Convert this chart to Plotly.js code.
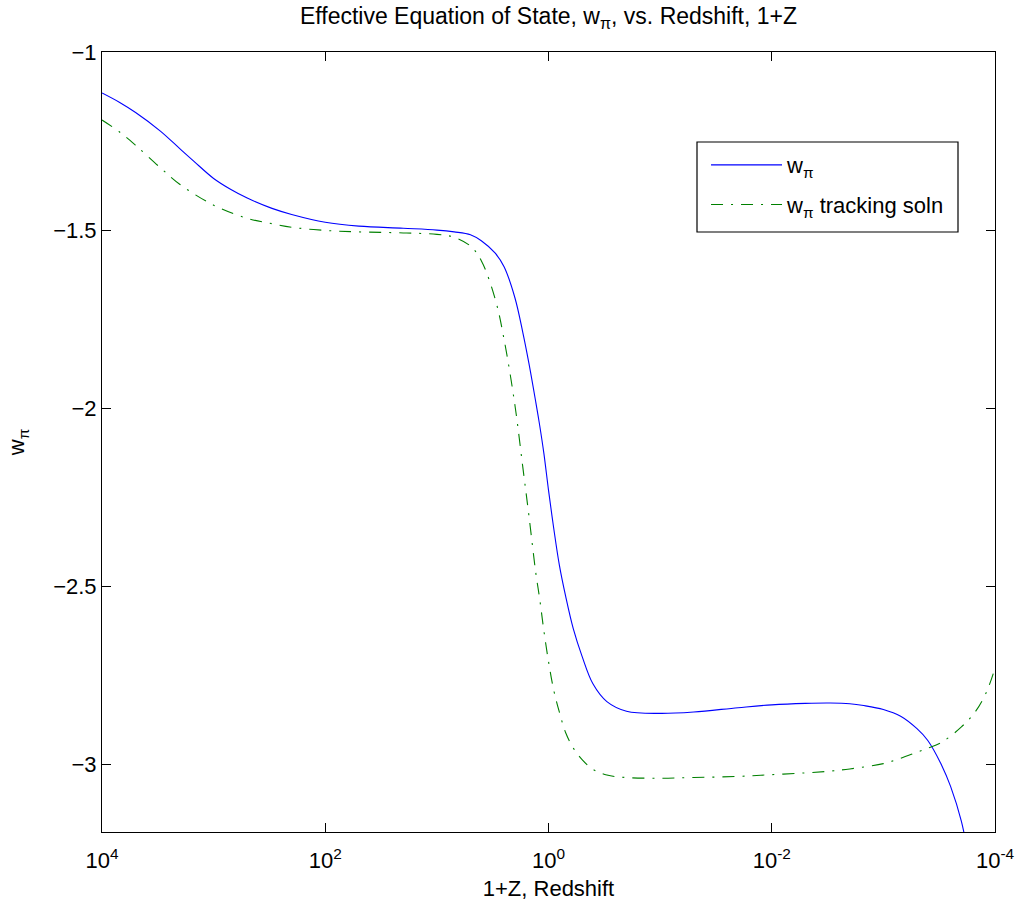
<!DOCTYPE html>
<html>
<head>
<meta charset="utf-8">
<script src="https://cdn.plot.ly/plotly-3.0.1.min.js"></script>
<style>html,body{margin:0;padding:0;background:#fff}#chart{width:1021px;height:907px}</style>
</head>
<body>
<div id="chart"></div>
<script>
// 1+Z redshift values (x) and w_pi values (y)
var redshift = [10000, 7000, 5000, 3000, 2000, 1500, 1000, 700, 500, 300, 200, 100, 50, 20, 10, 7, 5, 4, 3, 2.5, 2, 1.7, 1.5, 1.3, 1.2, 1.1, 1, 0.9, 0.8, 0.7, 0.6, 0.5, 0.4, 0.3, 0.2, 0.1, 0.05, 0.02, 0.01, 0.005, 0.003, 0.002, 0.0015, 0.001, 0.0007, 0.0005, 0.0004, 0.0003, 0.00025, 0.0002, 0.00018];
var wPi = [-1.115, -1.141, -1.170, -1.222, -1.272, -1.307, -1.355, -1.386, -1.410, -1.439, -1.456, -1.478, -1.489, -1.495, -1.500, -1.505, -1.513, -1.530, -1.565, -1.603, -1.690, -1.787, -1.873, -1.983, -2.048, -2.127, -2.230, -2.335, -2.440, -2.530, -2.619, -2.697, -2.774, -2.824, -2.851, -2.857, -2.853, -2.841, -2.833, -2.829, -2.828, -2.830, -2.835, -2.846, -2.865, -2.900, -2.933, -3.003, -3.062, -3.160, -3.230];

var redshiftTrack = [10000, 7000, 5000, 3000, 2000, 1000, 500, 300, 200, 100, 50, 20, 10, 7, 5, 4, 3, 2.5, 2, 1.7, 1.5, 1.3, 1.2, 1.1, 1, 0.9, 0.8, 0.7, 0.6, 0.5, 0.4, 0.3, 0.2, 0.1, 0.05, 0.02, 0.01, 0.005, 0.003, 0.002, 0.001, 0.0007, 0.0005, 0.0004, 0.0003, 0.0002, 0.00015, 0.00012, 0.0001];
var wPiTrack = [-1.191, -1.224, -1.262, -1.325, -1.372, -1.430, -1.467, -1.482, -1.492, -1.501, -1.505, -1.508, -1.512, -1.520, -1.545, -1.586, -1.694, -1.807, -1.991, -2.165, -2.300, -2.462, -2.535, -2.625, -2.711, -2.790, -2.853, -2.912, -2.954, -2.987, -3.014, -3.030, -3.037, -3.039, -3.037, -3.034, -3.029, -3.024, -3.019, -3.013, -2.998, -2.983, -2.966, -2.955, -2.938, -2.895, -2.852, -2.799, -2.730];

var xTickVals = [10000, 100, 1, 0.01, 0.0001];
var xTickText = ['10<sup>4</sup>', '10<sup>2</sup>', '10<sup>0</sup>', '10<sup>-2</sup>', '10<sup>-4</sup>'];
var yTickVals = [-3, -2.5, -2, -1.5, -1];
var yTickText = ['−3', '−2.5', '−2', '−1.5', '−1'];

var font = 'Liberation Sans, Arial, Helvetica, sans-serif';

var traces = [
  {x: redshift, y: wPi, type: 'scatter', mode: 'lines', name: 'w<sub>π</sub>', legendgroup: 'a',
   line: {color: '#0000ff', width: 1.1, shape: 'spline', smoothing: 1}},
  {x: redshiftTrack, y: wPiTrack, type: 'scatter', mode: 'lines', name: 'w<sub>π</sub> tracking soln', legendgroup: 'b',
   line: {color: '#008000', width: 1.1, dash: '12px,8px,2px,8px', shape: 'spline', smoothing: 1}}
];

var axisCommon = {
  showline: true, linecolor: '#000', linewidth: 1, mirror: 'ticks',
  ticks: 'inside', ticklen: 9, tickcolor: '#000', tickwidth: 1,
  showgrid: false, zeroline: false,
  tickfont: {family: font, size: 22, color: '#000'}
};

var layout = {
  width: 1021, height: 907,
  margin: {l: 102, r: 26, t: 52, b: 75},
  paper_bgcolor: '#fff', plot_bgcolor: '#fff',
  font: {family: font, color: '#000'},
  title: {text: 'Effective Equation of State, w<sub>π</sub>, vs. Redshift, 1+Z',
          font: {family: font, size: 23, color: '#000'},
          xref: 'paper', x: 0.5, xanchor: 'center', yref: 'container', y: 0.991, yanchor: 'top'},
  xaxis: Object.assign({}, axisCommon, {
    type: 'log', range: [4, -4], autorange: false,
    tickmode: 'array', tickvals: xTickVals, ticktext: xTickText, ticklabelstandoff: 9,
    title: {text: '1+Z, Redshift', font: {family: font, size: 22, color: '#000'}, standoff: 8}
  }),
  yaxis: Object.assign({}, axisCommon, {
    range: [-3.19, -1], autorange: false,
    tickmode: 'array', tickvals: yTickVals, ticktext: yTickText,
    title: {text: 'w<sub>π</sub>', font: {family: font, size: 22, color: '#000'}, standoff: 22}
  }),
  shapes: [{type: 'rect', xref: 'paper', yref: 'paper', layer: 'above',
            x0: (697 - 102) / 893, x1: (958 - 102) / 893, y0: (832 - 232) / 780, y1: (832 - 142) / 780,
            line: {color: '#000', width: 1.2}, fillcolor: 'rgba(255,255,255,0)'}],
  showlegend: true,
  legend: {x: 0.6764, y: 0.882, xanchor: 'left', yanchor: 'top', tracegroupgap: 8,
           bgcolor: 'rgba(0,0,0,0)', borderwidth: 0,
           font: {family: font, size: 22, color: '#000'}, itemwidth: 71}
};

Plotly.newPlot('chart', traces, layout, {displayModeBar: false, staticPlot: true});
</script>
</body>
</html>
